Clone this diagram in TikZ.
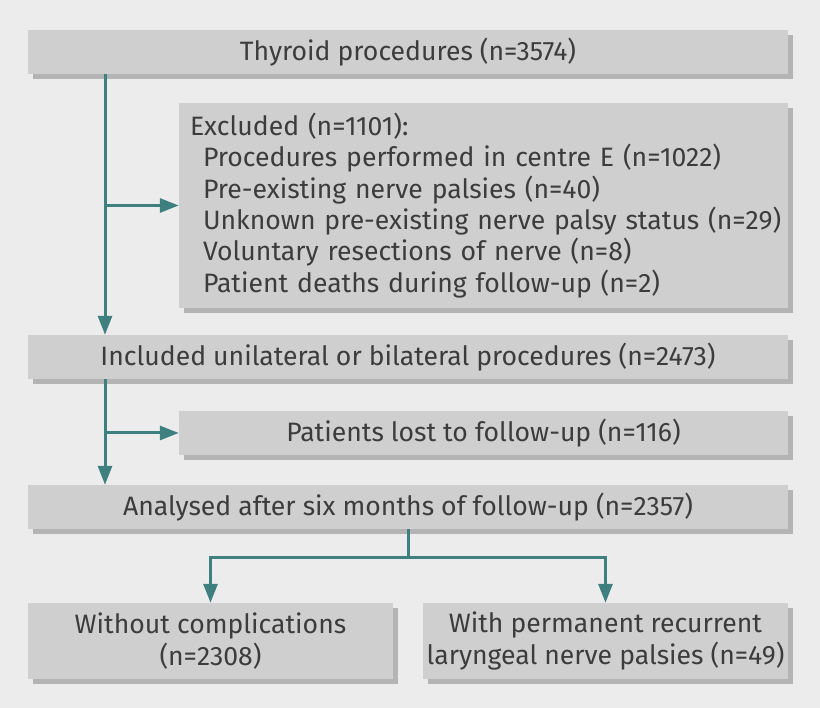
\documentclass[tikz,border=0pt]{standalone}
\usepackage{fontspec}
\setmainfont{Fira Sans}
\usetikzlibrary{arrows.meta,shadows}
\definecolor{bg}{HTML}{ECECEC}
\definecolor{boxfill}{HTML}{CFCFCF}
\definecolor{shadowc}{HTML}{B4B4B4}
\definecolor{teal}{HTML}{3E8080}
\definecolor{txt}{HTML}{3C3C3C}
\tikzset{
  box/.style={fill=boxfill, inner sep=0pt, text=txt, align=center,
    font=\fontsize{26.6}{31.3}\selectfont,
    general shadow={fill=shadowc, shadow xshift=5pt, shadow yshift=-5pt}},
  conn/.style={draw=teal, line width=3pt},
  arr/.style={conn, -{Triangle[length=19pt,width=14pt]}}
}
\newcommand{\subline}[1]{\mbox{\hspace*{13pt}#1}}
\begin{document}
\begin{tikzpicture}[x=1pt,y=-1pt]
\fill[bg] (0,0) rectangle (820,708);
\useasboundingbox (0,0) rectangle (820,708);
\coordinate (L) at (105,0);
\node[box, minimum width=760pt, minimum height=44pt] (t) at (408,52) {Thyroid procedures (n=3574)};
\node[box, minimum width=609pt, minimum height=205pt, text width=587pt, align=left] (exc) at (483.5,205.5) {\mbox{Excluded (n=1101):}\\
\subline{Procedures performed in centre E (n=1022)}\\
\subline{Pre-existing nerve palsies (n=40)}\\
\subline{Unknown pre-existing nerve palsy status (n=29)}\\
\subline{Voluntary resections of nerve (n=8)}\\
\subline{Patient deaths during follow-up (n=2)}};
\node[box, minimum width=760pt, minimum height=44pt] (inc) at (408,357) {Included unilateral or bilateral procedures (n=2473)};
\node[box, minimum width=609pt, minimum height=44pt] (lost) at (483.5,433) {Patients lost to follow-up (n=116)};
\node[box, minimum width=760pt, minimum height=44pt] (ana) at (408,507) {Analysed after six months of follow-up (n=2357)};
\node[box, minimum width=365pt, minimum height=76pt] (wo) at (210.5,641) {Without complications\\(n=2308)};
\node[box, minimum width=365pt, minimum height=76pt] (wi) at (605.5,641) {With permanent recurrent\\laryngeal nerve palsies (n=49)};
\draw[arr] (t.south -| L) -- (inc.north -| L);
\draw[arr] (exc.west -| L) -- (exc.west);
\draw[arr] (inc.south -| L) -- (ana.north -| L);
\draw[arr] (lost.west -| L) -- (lost.west);
\draw[conn] (ana.south) -- ++(0,28) coordinate (s);
\draw[arr] (s) -| (wo.north);
\draw[arr] (s) -| (wi.north);
\end{tikzpicture}
\end{document}
